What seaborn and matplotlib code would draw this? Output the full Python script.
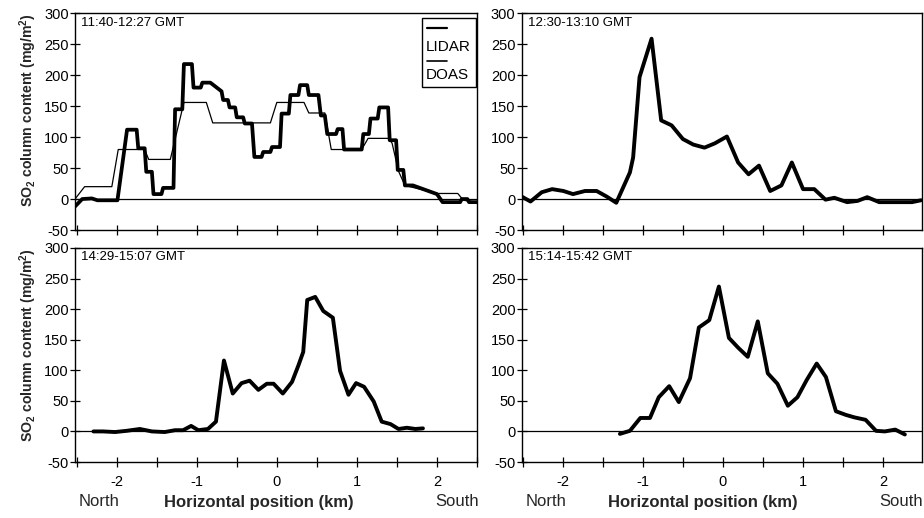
import matplotlib
matplotlib.use("Agg")
import matplotlib.pyplot as plt
from matplotlib.ticker import MultipleLocator, FixedLocator
from matplotlib.patches import Rectangle
import seaborn as sns
import pandas as pd

# ---------------- data ----------------
# Panel 1 (11:40-12:27 GMT): thick trace (LIDAR) and thin trace (DOAS)
p1_thick_x = [-2.52, -2.43, -2.31, -2.24, -1.99, -1.87, -1.75, -1.73, -1.65, -1.63, -1.56, -1.54,
              -1.44, -1.42, -1.29, -1.27, -1.18, -1.16, -1.06, -1.04, -0.95, -0.93, -0.83, -0.69,
              -0.67, -0.61, -0.59, -0.52, -0.50, -0.42, -0.40, -0.31, -0.28, -0.19, -0.17, -0.08,
              -0.06, 0.04, 0.06, 0.15, 0.17, 0.27, 0.29, 0.38, 0.40, 0.52, 0.55, 0.60, 0.63, 0.74,
              0.76, 0.82, 0.84, 1.06, 1.08, 1.15, 1.17, 1.26, 1.28, 1.39, 1.41, 1.49, 1.51, 1.58,
              1.60, 1.70, 1.85, 2.00, 2.07, 2.29, 2.31, 2.38, 2.40, 2.50]
p1_thick_y = [-12, 0, 1, -2, -2, 112, 112, 82, 82, 44, 44, 8,
              8, 18, 18, 145, 145, 218, 218, 180, 180, 188, 188, 174,
              160, 160, 148, 148, 132, 132, 122, 122, 68, 68, 76, 76,
              84, 84, 138, 138, 168, 168, 184, 184, 168, 168, 135, 135, 105, 105,
              113, 113, 80, 80, 105, 105, 130, 130, 148, 148, 95, 95, 47, 47,
              22, 22, 15, 8, -5, -5, 0, 0, -5, -5]
p1_thin_x = [-2.52, -2.40, -2.06, -1.98, -1.65, -1.60, -1.33, -1.16, -0.88, -0.80, -0.08, 0.00,
             0.34, 0.40, 0.60, 0.68, 1.06, 1.14, 1.40, 1.44, 1.52, 1.60, 2.00, 2.26, 2.33, 2.50]
p1_thin_y = [0, 20, 20, 80, 80, 64, 64, 156, 156, 123, 123, 156,
             156, 139, 139, 80, 80, 98, 98, 90, 45, 22, 9, 9, -2, -5]

# Panel 2 (12:30-13:10 GMT)
p2_x = [-2.51, -2.40, -2.26, -2.13, -1.99, -1.87, -1.72, -1.575, -1.45, -1.33, -1.16, -1.12,
        -1.04, -0.89, -0.77, -0.64, -0.50, -0.37, -0.23, -0.10, 0.05, 0.19, 0.32, 0.45, 0.59,
        0.73, 0.86, 1.00, 1.14, 1.28, 1.39, 1.55, 1.68, 1.80, 1.95, 2.20, 2.36, 2.47]
p2_y = [4, -4, 11, 16, 13, 8, 13, 13, 4, -6, 43, 67,
        197, 259, 127, 119, 97, 88, 83, 90, 101, 59, 40, 54, 13,
        22, 59, 16, 16, -1, 2, -5, -3, 3, -5, -5, -5, -2]

# Panel 3 (14:29-15:07 GMT)
p3_x = [-2.29, -2.17, -2.02, -1.875, -1.71, -1.56, -1.40, -1.27, -1.17, -1.07, -0.98, -0.86,
        -0.76, -0.66, -0.55, -0.44, -0.34, -0.23, -0.125, -0.04, 0.075, 0.19, 0.27, 0.33,
        0.38, 0.48, 0.58, 0.70, 0.79, 0.895, 0.99, 1.09, 1.21, 1.31, 1.42, 1.52, 1.625, 1.73, 1.825]
p3_y = [0, 0, -1, 1, 4, 0, -1, 2, 2, 9, 2, 4,
        16, 116, 62, 79, 83, 68, 78, 78, 62, 81, 108, 130,
        215, 220, 197, 186, 99, 60, 79, 73, 49, 16, 12, 4, 6, 4, 5]

# Panel 4 (15:14-15:42 GMT)
p4_x = [-1.285, -1.16, -1.03, -0.91, -0.80, -0.67, -0.55, -0.41, -0.30, -0.17, -0.05, 0.075,
        0.19, 0.31, 0.435, 0.56, 0.68, 0.81, 0.93, 1.045, 1.17, 1.285, 1.41, 1.535, 1.64,
        1.78, 1.91, 2.02, 2.15, 2.27]
p4_y = [-4, 1, 22, 22, 56, 74, 48, 87, 170, 182, 237, 153,
        137, 122, 180, 95, 78, 42, 56, 84, 111, 89, 33, 27, 23,
        19, 1, 0, 3, -5]

time_labels = ["11:40-12:27 GMT", "12:30-13:10 GMT", "14:29-15:07 GMT", "15:14-15:42 GMT"]
legend_labels = ["LIDAR", "DOAS"]
x_ticks = [-2, -1, 0, 1, 2]
y_ticks = [-50, 0, 50, 100, 150, 200, 250, 300]
ylabel_text = r"SO$_2$ column content (mg/m$^2$)"
xlabel_text = "Horizontal position (km)"
north_south = ["North", "South"]

# ---------------- style ----------------
sns.set_style("ticks")
plt.rcParams["font.family"] = ["Liberation Sans", "DejaVu Sans"]
plt.rcParams["mathtext.default"] = "regular"
plt.rcParams["axes.linewidth"] = 1.0
plt.rcParams["axes.unicode_minus"] = False

fig = plt.figure(figsize=(9.24, 5.18), dpi=100)
W, H = 924, 518


def ax_at(l, t, r, b):
    return fig.add_axes([l / W, 1 - b / H, (r - l) / W, (b - t) / H])


axes = [
    ax_at(75, 13.3, 477, 230),
    ax_at(521.7, 13.3, 921.7, 230),
    ax_at(75, 248, 477, 462),
    ax_at(521.7, 248, 921.7, 462),
]
xlims = [(-2.52, 2.50), (-2.51, 2.48), (-2.52, 2.50), (-2.51, 2.48)]

series = [
    [(p1_thick_x, p1_thick_y, 2.7), (p1_thin_x, p1_thin_y, 0.9)],
    [(p2_x, p2_y, 2.8)],
    [(p3_x, p3_y, 2.8)],
    [(p4_x, p4_y, 2.8)],
]

for i, ax in enumerate(axes):
    ax.axhline(0, color="black", lw=0.9, zorder=1)
    for xs, ys, lw in series[i]:
        df = pd.DataFrame({"x": xs, "y": ys})
        sns.lineplot(data=df, x="x", y="y", ax=ax, sort=False, estimator=None,
                     color="black", lw=lw, zorder=3)
    ax.set_xlim(*xlims[i])
    ax.set_ylim(-50, 300)
    ax.set_xlabel("")
    ax.set_ylabel("")
    ax.xaxis.set_major_locator(FixedLocator(x_ticks))
    ax.xaxis.set_minor_locator(MultipleLocator(0.5))
    ax.yaxis.set_major_locator(FixedLocator(y_ticks))
    ax.tick_params(axis="both", which="both", direction="inout", length=7, width=0.9,
                   color="black", labelsize=10.5, labelcolor="black")
    ax.tick_params(axis="y", pad=1)
    ax.tick_params(axis="x", pad=6)
    for s in ax.spines.values():
        s.set_visible(True)
        s.set_color("black")
        s.set_linewidth(1.0)
    ax.text(0.016, 0.985, time_labels[i], transform=ax.transAxes, ha="left", va="top",
            fontsize=9.5, color="black")
    if i < 2:
        ax.tick_params(axis="x", labelbottom=False)

# legend box in panel 1 (line sample drawn above each label)
ax0 = axes[0]
ax0.add_patch(Rectangle((0.862, 0.659), 0.136, 0.318, transform=ax0.transAxes,
                        fill=False, edgecolor="black", lw=1.0, zorder=5))
for lab, lw, yl, yt in zip(legend_labels, [1.6, 1.2], [0.932, 0.781], [0.846, 0.715]):
    ax0.plot([0.875, 0.925], [yl, yl], transform=ax0.transAxes, color="black", lw=lw, zorder=6)
    ax0.text(0.873, yt, lab, transform=ax0.transAxes, ha="left", va="center",
             fontsize=11, color="black", zorder=6)

# y labels
for yc in [110, 345]:
    fig.text(28 / W, 1 - yc / H, ylabel_text, rotation=90, ha="center", va="center",
             fontsize=10.2, fontweight="bold")

# x labels, North / South
for (xn, xc, xs) in [(99, 259, 457), (546, 703, 901)]:
    fig.text(xn / W, 1 - 502 / H, north_south[0], ha="center", va="center", fontsize=12)
    fig.text(xc / W, 1 - 502 / H, xlabel_text, ha="center", va="center", fontsize=12,
             fontweight="bold")
    fig.text(xs / W, 1 - 502 / H, north_south[1], ha="center", va="center", fontsize=12)

fig.savefig("out.png", dpi=100)
